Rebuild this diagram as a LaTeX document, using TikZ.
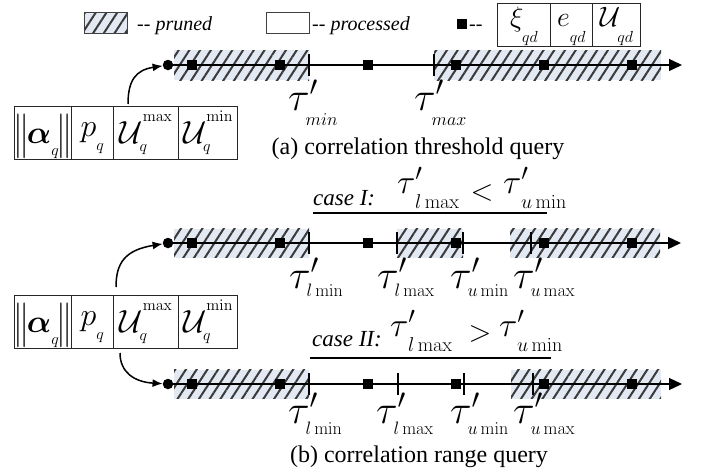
\RequirePackage{fix-cm}
\documentclass[tikz,border=0pt]{standalone}
\usepackage{amsmath}
\usepackage{graphicx}
\usepackage[no-math]{fontspec}
\setmainfont{Liberation Serif}
\usetikzlibrary{arrows.meta,patterns.meta}
\DeclareMathSizes{32}{32}{16}{12}
\DeclareMathSizes{28}{28}{16}{12}
\definecolor{hatchbg}{HTML}{E3E9F3}
\definecolor{hatchln}{HTML}{3A3A3A}

% tau-prime threshold mark with a lowered subscript: #1 subscript, #2 drop
\newcommand\taumark[2]{{\fontsize{40}{40}\selectfont\rlap{$\tau'$}\kern17.5pt}\lower#2\hbox{\fontsize{18}{18}\selectfont$#1$}}
% tau-prime inside the case headings
\newcommand\taucase[1]{{\fontsize{34}{34}\selectfont\rlap{$\tau'$}\kern18pt}\lower15pt\hbox{\fontsize{20}{20}\selectfont$#1$}}
% subscript pushed further down
\newcommand\dropped[2]{\raisebox{-#1}{$\scriptstyle #2$}}
% tall norm bars in a narrow box
\newcommand\normbar{\makebox[10pt][c]{\raisebox{-4pt}{\scalebox{1}[1.4]{$\|$}}}}

% the four-field query record
\newcommand\querybox[2]{%
  \node[qcell, minimum width=57pt] (#1a) at (14,#2) {\normbar$\boldsymbol{\alpha}_{\dropped{7pt}{q}}$\normbar};
  \node[qcell, minimum width=42pt] (#1b) at (71,#2) {\raisebox{7pt}{$p_{\dropped{9pt}{q}}$}};
  \node[qcell, minimum width=65pt] (#1c) at (113,#2) {$\mathcal{U}^{\raisebox{10pt}{$\scriptstyle\max$}}_{q}$};
  \node[qcell, minimum width=59pt] (#1d) at (178,#2) {$\mathcal{U}^{\raisebox{10pt}{$\scriptstyle\min$}}_{q}$};}

\begin{document}
\begin{tikzpicture}[x=1pt,y=-1pt,
  pruned/.style={preaction={fill=hatchbg},
    pattern={Lines[angle=57,distance=9pt,line width=2pt]}, pattern color=hatchln},
  swatch/.style={minimum width=43pt, minimum height=21pt, inner sep=0pt, draw=black!75, line width=0.9pt},
  axisline/.style={line width=1.3pt, -{Triangle[length=13pt,width=12pt]}},
  sq/.style={rectangle, fill=black, minimum size=10pt, inner sep=0pt},
  startdot/.style={circle, fill=black, minimum size=10.5pt, inner sep=0pt},
  tickmark/.style={line width=1.3pt},
  qcell/.style={draw=black!85, line width=1.2pt, minimum height=53pt, inner sep=0pt,
    anchor=north west, text height=37pt, text depth=16pt, font=\fontsize{32}{38}\selectfont},
  lcell/.style={draw=black!85, line width=1.2pt, minimum height=43pt, inner sep=0pt,
    anchor=north west, text height=23pt, text depth=20pt, font=\fontsize{28}{32}\selectfont},
  curvearrow/.style={line width=1.5pt, -{Latex[length=10pt,width=8pt]}},
  lab/.style={inner sep=0pt, anchor=base west},
  legendtext/.style={lab, font=\fontsize{20}{24}\selectfont\itshape},
  casetext/.style={lab, font=\fontsize{23}{26}\selectfont\itshape},
  captiontext/.style={inner sep=0pt, anchor=base, font=\fontsize{24}{28}\selectfont},
  uline/.style={line width=1.2pt},
]
\useasboundingbox (0,0) rectangle (702,474);

% ---------------- legend ----------------
\node[swatch, pruned] (kp) at (105.5,23) {};
\node[legendtext] (kpt) at (137,30) {-{}- pruned};
\node[swatch, fill=white] (kq) at (288,23) {};
\node[legendtext] (kqt) at (312,30) {-{}- processed};
\node[sq] (ks) at (462,24) {};
\node[legendtext] (kst) at (469,30) {-{}-};
\node[lcell, minimum width=53pt] (k1) at (497,3) {$\xi_{\dropped{12pt}{qd}}$};
\node[lcell, minimum width=42pt] (k2) at (550,3) {$e_{\dropped{12pt}{qd}}$};
\node[lcell, minimum width=48pt] (k3) at (592,3) {$\mathcal{U}_{\dropped{12pt}{qd}}$};

% ---------------- (a) threshold query ----------------
\path[pruned] (174,50) rectangle (309,80);
\path[pruned] (434,50) rectangle (661,80);
\node[startdot] (da) at (168,65) {};
\coordinate (ea) at (682,65);
\draw[axisline] (da.center) -- (ea);
\foreach \x in {309,434} \draw[tickmark] (\x,54) -- (\x,76);
\foreach \x [count=\i] in {192,280,368,456,544,632} \node[sq] (a\i) at (\x,65) {};
\node[lab] (amin) at (288,110) {\taumark{min}{15pt}};
\node[lab] (amax) at (414,110) {\taumark{max}{15pt}};

\querybox{A}{106}
\coordinate (sa) at (128,104);
\draw[curvearrow] (sa) .. controls (128,80) and (136,70) .. (da);
\node[captiontext] (capa) at (418,154) {(a) correlation threshold query};

% ---------------- (b) range query, case I ----------------
\node[casetext] (c1t) at (313,205) {case I:};
\node[lab] (c1a) at (397,193) {\taucase{l\max}};
\node[lab] (c1r) at (470.5,200) {\fontsize{30}{30}\selectfont$<$};
\node[lab] (c1b) at (503,193) {\taucase{u\min}};
\coordinate (u1l) at (313,213);
\coordinate (u1r) at (547,213);
\draw[uline] (u1l) -- (u1r);

\path[pruned] (174,228.5) rectangle (309,257.5);
\path[pruned] (397,228.5) rectangle (463,257.5);
\path[pruned] (510,228.5) rectangle (660,257.5);
\node[startdot] (db) at (168,243) {};
\coordinate (eb) at (681,243);
\draw[axisline] (db.center) -- (eb);
\foreach \x in {309,397,463,531} \draw[tickmark] (\x,232) -- (\x,254);
\foreach \x [count=\i] in {192,280,368,456,544,632} \node[sq] (b\i) at (\x,243) {};
\node[lab] (blmin) at (289,288) {\taumark{l\min}{8pt}};
\node[lab] (blmax) at (377,288) {\taumark{l\max}{8pt}};
\node[lab] (bumin) at (450,288) {\taumark{u\min}{8pt}};
\node[lab] (bumax) at (513,288) {\taumark{u\max}{8pt}};

\querybox{B}{295}
\coordinate (sb) at (116,287);
\draw[curvearrow] (sb) .. controls (116,263) and (125,250) .. (db);

% ---------------- (b) range query, case II ----------------
\node[casetext] (c2t) at (312,346) {case II:};
\node[lab] (c2a) at (390,336) {\taucase{l\max}};
\node[lab] (c2r) at (468.5,341.5) {\fontsize{30}{30}\selectfont$>$};
\node[lab] (c2b) at (499,336) {\taucase{u\min}};
\coordinate (u2l) at (310,358);
\coordinate (u2r) at (551,358);
\draw[uline] (u2l) -- (u2r);

\path[pruned] (174,369.5) rectangle (309,398.5);
\path[pruned] (511,369.5) rectangle (661,398.5);
\node[startdot] (dc) at (168,384) {};
\coordinate (ec) at (682,384);
\draw[axisline] (dc.center) -- (ec);
\foreach \x in {309,398,464,533} \draw[tickmark] (\x,373) -- (\x,395);
\foreach \x [count=\i] in {192,280,368,456,544,632} \node[sq] (c\i) at (\x,384) {};
\node[lab] (clmin) at (288,423) {\taumark{l\min}{11pt}};
\node[lab] (clmax) at (376,423) {\taumark{l\max}{11pt}};
\node[lab] (cumin) at (450,423) {\taumark{u\min}{11pt}};
\node[lab] (cumax) at (513,423) {\taumark{u\max}{11pt}};

\coordinate (sc) at (120,353);
\draw[curvearrow] (sc) .. controls (120,372) and (134,382) .. (dc);
\node[captiontext] (capb) at (419,462) {(b) correlation range query};
\end{tikzpicture}
\end{document}
